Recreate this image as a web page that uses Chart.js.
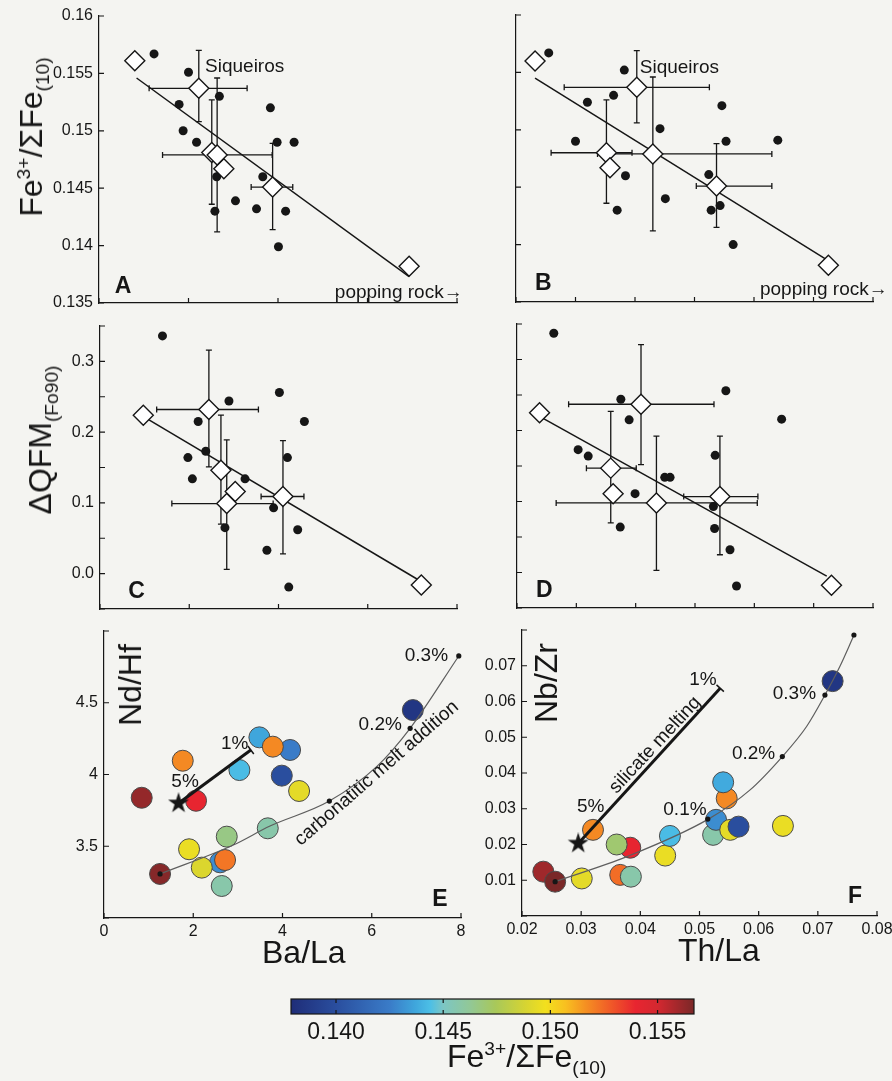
<!DOCTYPE html>
<html>
<head>
<meta charset="utf-8">
<title>Fe3+/ΣFe panels</title>
<script src="https://cdn.jsdelivr.net/npm/chart.js@4.4.0/dist/chart.umd.min.js"></script>
<style>
  body { margin: 0; background: #f4f4f1; }
  #page { position: relative; width: 892px; height: 1081px; overflow: hidden; background: #f4f4f1;
          font-family: "Liberation Sans", Arial, Helvetica, sans-serif; color: #161616; }
  #page canvas { position: absolute; left: 0; top: 0; }
  .lbl { position: absolute; white-space: nowrap; font-size: 32px; line-height: 1; z-index: 5; }
  .lbl sup, .lbl sub { font-size: 60%; line-height: 0; }
  .rot { transform: translate(-50%, -50%) rotate(-90deg); }
</style>
</head>
<body>
<div id="page">
  <canvas id="chartA" width="940" height="1081"></canvas>
  <canvas id="chartB" width="940" height="1081"></canvas>
  <canvas id="chartC" width="940" height="1081"></canvas>
  <canvas id="chartD" width="940" height="1081"></canvas>
  <canvas id="chartE" width="940" height="1081"></canvas>
  <canvas id="chartF" width="940" height="1081"></canvas>
  <canvas id="colorbar" width="940" height="1081"></canvas>

  <div class="lbl rot" style="left:31px; top:137px;">Fe<sup>3+</sup>/ΣFe<sub>(10)</sub></div>
  <div class="lbl rot" style="left:40px; top:440px;">ΔQFM<sub>(Fo90)</sub></div>
  <div class="lbl rot" style="left:130px; top:685px;">Nd/Hf</div>
  <div class="lbl rot" style="left:546px; top:683px;">Nb/Zr</div>
  <div class="lbl" style="left:262px; top:936px;">Ba/La</div>
  <div class="lbl" style="left:678px; top:934px;">Th/La</div>
  <div class="lbl" style="left:447px; top:1040px;">Fe<sup>3+</sup>/ΣFe<sub>(10)</sub></div>
</div>

<script>
// ---- panel A: Fe3+/ΣFe(10) vs Ba/La ----
const aDotX = [1.23, 2.00, 2.69, 1.79, 3.83, 1.88, 2.18, 3.98, 4.36, 3.66, 2.63, 3.05, 3.52, 2.59, 4.17, 4.01];
const aDotY = [0.1567, 0.1551, 0.1530, 0.1523, 0.1520, 0.1500, 0.1490, 0.1490, 0.1490, 0.1460, 0.1460, 0.1439, 0.1432, 0.1430, 0.1430, 0.1399];
const aMeanX = [0.80, 2.23, 2.52, 2.79, 2.64, 3.88, 6.93];
const aMeanY = [0.1561, 0.1537, 0.1481, 0.1467, 0.1479, 0.1451, 0.1382];
const aMeanXErr = [null, [1.12, 3.31], null, null, [1.42, 3.87], [3.40, 4.33], null];
const aMeanYErr = [null, [0.1508, 0.1570], [0.1436, 0.1527], null, [0.1412, 0.1546], [0.1414, 0.1489], null];
const aFitX = [0.84, 6.93];
const aFitY = [0.1546, 0.1373];

// ---- panel B: Fe3+/ΣFe(10) vs Th/La ----
const bDotX = [0.0255, 0.0382, 0.0320, 0.0364, 0.0546, 0.0442, 0.0300, 0.0553, 0.0640, 0.0384, 0.0524, 0.0451, 0.0370, 0.0528, 0.0543, 0.0565];
const bDotY = [0.1567, 0.1552, 0.1524, 0.1530, 0.1521, 0.1501, 0.1490, 0.1490, 0.1491, 0.1460, 0.1461, 0.1440, 0.1430, 0.1430, 0.1434, 0.1400];
const bMeanX = [0.0232, 0.0403, 0.0352, 0.0358, 0.0430, 0.0537, 0.0725];
const bMeanY = [0.1560, 0.1537, 0.1480, 0.1467, 0.1479, 0.1451, 0.1382];
const bMeanXErr = [null, [0.0281, 0.0525], [0.0259, 0.0395], null, [0.0337, 0.0630], [0.0503, 0.0630], null];
const bMeanYErr = [null, [0.1506, 0.1569], [0.1436, 0.1526], null, [0.1412, 0.1546], [0.1415, 0.1488], null];
const bFitX = [0.0232, 0.0722];
const bFitY = [0.1545, 0.1387];

// ---- panel C: ΔQFM(Fo90) vs Ba/La ----
const cDotX = [1.40, 2.89, 4.02, 2.20, 4.58, 2.37, 1.97, 4.20, 2.07, 3.25, 3.89, 2.80, 4.43, 3.74, 4.23];
const cDotY = [0.336, 0.244, 0.256, 0.215, 0.215, 0.173, 0.164, 0.164, 0.134, 0.134, 0.093, 0.065, 0.062, 0.033, -0.019];
const cMeanX = [0.97, 2.44, 2.71, 3.03, 2.84, 4.10, 7.20];
const cMeanY = [0.224, 0.232, 0.146, 0.116, 0.099, 0.109, -0.016];
const cMeanXErr = [null, [1.27, 3.55], null, null, [1.61, 3.88], [3.61, 4.57], null];
const cMeanYErr = [null, [0.151, 0.316], [0.070, 0.224], null, [0.006, 0.189], [0.028, 0.188], null];
const cFitX = [1.05, 7.14];
const cFitY = [0.219, -0.009];

// ---- panel D: ΔQFM(Fo90) vs Th/La ----
const dDotX = [0.0262, 0.0552, 0.0375, 0.0646, 0.0389, 0.0303, 0.0320, 0.0534, 0.0449, 0.0458, 0.0399, 0.0531, 0.0374, 0.0533, 0.0559, 0.0570];
const dDotY = [0.337, 0.256, 0.244, 0.216, 0.215, 0.173, 0.164, 0.165, 0.134, 0.134, 0.111, 0.093, 0.064, 0.062, 0.032, -0.019];
const dMeanX = [0.0238, 0.0409, 0.0358, 0.0362, 0.0435, 0.0542, 0.0730];
const dMeanY = [0.225, 0.237, 0.147, 0.111, 0.098, 0.107, -0.018];
const dMeanXErr = [null, [0.0287, 0.0532], [0.0317, 0.0401], null, [0.0266, 0.0605], [0.0481, 0.0606], null];
const dMeanYErr = [null, [0.152, 0.321], [0.070, 0.227], null, [0.003, 0.192], [0.025, 0.192], null];
const dFitX = [0.0244, 0.0722];
const dFitY = [0.217, -0.005];

// ---- panel E: Nd/Hf vs Ba/La, coloured by Fe3+/ΣFe(10) ----
const eDotX = [0.845, 1.765, 2.063, 3.034, 3.482, 4.170, 3.783, 4.372, 3.984, 6.921, 2.639, 3.670, 2.751, 1.906, 2.601, 2.191, 2.713, 1.256];
const eDotY = [3.838, 4.096, 3.817, 4.031, 4.259, 4.171, 4.194, 3.885, 3.992, 4.449, 3.223, 3.625, 3.567, 3.479, 3.388, 3.351, 3.404, 3.307];
const eDotFe = [0.1562, 0.1518, 0.1540, 0.1443, 0.1437, 0.1425, 0.1518, 0.1493, 0.1400, 0.1385, 0.1457, 0.1457, 0.1466, 0.1495, 0.1430, 0.1490, 0.1522, 0.1565];
const eCurveX = [1.256, 2.90, 3.72, 5.05, 6.11, 6.86, 7.95];
const eCurveY = [3.307, 3.509, 3.641, 3.815, 4.055, 4.322, 4.826];
const eStepX = [1.256, 5.05, 6.86, 7.95];
const eStepY = [3.307, 3.815, 4.322, 4.826];
const eMeltX = [1.67, 3.29];
const eMeltY = [3.80, 4.171];

// ---- panel F: Nb/Zr vs Th/La ----
const fDotX = [0.0236, 0.0256, 0.0301, 0.0320, 0.0383, 0.0360, 0.0366, 0.0384, 0.0442, 0.0450, 0.0546, 0.0540, 0.0523, 0.0528, 0.0552, 0.0566, 0.0641, 0.0725];
const fDotY = [0.0124, 0.0096, 0.0105, 0.0241, 0.0191, 0.0200, 0.0115, 0.0110, 0.0169, 0.0224, 0.0329, 0.0374, 0.0227, 0.0269, 0.0241, 0.0250, 0.0252, 0.0657];
const fDotFe = [0.1560, 0.1567, 0.1493, 0.1518, 0.1540, 0.1470, 0.1524, 0.1457, 0.1495, 0.1443, 0.1518, 0.1438, 0.1457, 0.1430, 0.1493, 0.1400, 0.1495, 0.1385];
const fCurveX = [0.0256, 0.0377, 0.0515, 0.0585, 0.0640, 0.0681, 0.0712, 0.0737, 0.0761];
const fCurveY = [0.0096, 0.0166, 0.0271, 0.0352, 0.0446, 0.0530, 0.0618, 0.0697, 0.0785];
const fStepX = [0.0256, 0.0514, 0.0640, 0.0712, 0.0761];
const fStepY = [0.0096, 0.0271, 0.0446, 0.0618, 0.0786];
const fMeltX = [0.0295, 0.0535];
const fMeltY = [0.0203, 0.0637];

// ---- colour scale ----
const cmapV = [0.1379, 0.1400, 0.14252, 0.14369, 0.14439, 0.1450, 0.14626, 0.14743, 0.14883, 0.14977, 0.15070, 0.15164, 0.15280, 0.15397, 0.15500, 0.1567];
const cmapC = ['#1f2d78', '#2a4e9e', '#3a7cc8', '#3fa6dc', '#4cbfe6', '#7cc6c4', '#92c896', '#a8c85a', '#d6d432', '#f2e01e', '#f8c020', '#f59022', '#f05a28', '#e82530', '#d42830', '#7a2828'];
const cbTicks = [0.140, 0.145, 0.150, 0.155];

const INK = '#161616';
const FONT = '"Liberation Sans", Arial, Helvetica, sans-serif';
const CW = 940, CH = 1081;
const Y_W = 60, X_H = 32;

function pts(xs, ys) { return xs.map((x, i) => ({ x, y: ys[i] })); }
function fixed(v, d) { return String(parseFloat(v.toFixed(d))); }

function hexRgb(h) { return [1, 3, 5].map(i => parseInt(h.slice(i, i + 2), 16)); }
function feColor(v) {
  if (v <= cmapV[0]) return cmapC[0];
  for (let i = 1; i < cmapV.length; i++) {
    if (v <= cmapV[i]) {
      const t = (v - cmapV[i - 1]) / (cmapV[i] - cmapV[i - 1]);
      const a = hexRgb(cmapC[i - 1]), b = hexRgb(cmapC[i]);
      const c = a.map((q, k) => Math.round(q + (b[k] - q) * t));
      return `rgb(${c[0]},${c[1]},${c[2]})`;
    }
  }
  return cmapC[cmapC.length - 1];
}

function starImage(size) {
  const c = document.createElement('canvas');
  c.width = c.height = size;
  const g = c.getContext('2d');
  const r = size / 2, ri = r * 0.38;
  g.beginPath();
  for (let k = 0; k < 10; k++) {
    const ang = -Math.PI / 2 + k * Math.PI / 5;
    const rr = k % 2 ? ri : r;
    g.lineTo(r + rr * Math.cos(ang), r + rr * Math.sin(ang));
  }
  g.closePath();
  g.fillStyle = INK;
  g.fill();
  return c;
}
const STAR = starImage(22);

// error bars drawn under the markers
const errorBars = {
  id: 'errorBars',
  beforeDatasetsDraw(chart) {
    const { ctx, scales: { x, y } } = chart;
    chart.data.datasets.forEach(ds => {
      if (!ds.errX) return;
      ctx.save();
      ctx.strokeStyle = INK;
      ctx.lineWidth = 1.3;
      ds.data.forEach((p, i) => {
        const px = x.getPixelForValue(p.x), py = y.getPixelForValue(p.y);
        const ex = ds.errX[i], ey = ds.errY[i];
        ctx.beginPath();
        if (ex) {
          const a = x.getPixelForValue(ex[0]), b = x.getPixelForValue(ex[1]);
          ctx.moveTo(a, py); ctx.lineTo(b, py);
          ctx.moveTo(a, py - 3); ctx.lineTo(a, py + 3);
          ctx.moveTo(b, py - 3); ctx.lineTo(b, py + 3);
        }
        if (ey) {
          const a = y.getPixelForValue(ey[0]), b = y.getPixelForValue(ey[1]);
          ctx.moveTo(px, a); ctx.lineTo(px, b);
          ctx.moveTo(px - 3, a); ctx.lineTo(px + 3, a);
          ctx.moveTo(px - 3, b); ctx.lineTo(px + 3, b);
        }
        ctx.stroke();
      });
      ctx.restore();
    });
  }
};

// small bar across the end of the melting line
const endTick = {
  id: 'endTick',
  afterDatasetsDraw(chart) {
    const { ctx } = chart;
    chart.data.datasets.forEach((ds, i) => {
      if (!ds.endTick) return;
      const pts = chart.getDatasetMeta(i).data;
      const a = pts[pts.length - 2], b = pts[pts.length - 1];
      const dx = b.x - a.x, dy = b.y - a.y, len = Math.hypot(dx, dy);
      const nx = -dy / len * 5, ny = dx / len * 5;
      ctx.save();
      ctx.strokeStyle = INK;
      ctx.lineWidth = 1.5;
      ctx.beginPath();
      ctx.moveTo(b.x - nx, b.y - ny);
      ctx.lineTo(b.x + nx, b.y + ny);
      ctx.stroke();
      ctx.restore();
    });
  }
};

// tick marks pointing into the plot
const inwardTicks = {
  id: 'inwardTicks',
  afterDraw(chart) {
    const { ctx, chartArea: ca, scales: { x, y } } = chart;
    ctx.save();
    ctx.strokeStyle = INK;
    ctx.lineWidth = 1.2;
    ctx.beginPath();
    x.ticks.forEach((t, i) => {
      const p = x.getPixelForTick(i);
      ctx.moveTo(p, ca.bottom);
      ctx.lineTo(p, ca.bottom - 5);
    });
    y.ticks.forEach((t, i) => {
      const p = y.getPixelForTick(i);
      ctx.moveTo(ca.left, p);
      ctx.lineTo(ca.left + 5, p);
    });
    ctx.stroke();
    ctx.restore();
  }
};

function notesPlugin(notes) {
  return {
    id: 'notes',
    afterDraw(chart) {
      const { ctx, scales: { x, y } } = chart;
      notes.forEach(n => {
        ctx.save();
        ctx.translate(x.getPixelForValue(n.x), y.getPixelForValue(n.y));
        if (n.rot) ctx.rotate(n.rot * Math.PI / 180);
        ctx.font = `${n.bold ? 'bold ' : ''}${n.size || 19}px ${FONT}`;
        ctx.fillStyle = INK;
        ctx.textAlign = n.align || 'left';
        ctx.textBaseline = 'middle';
        ctx.fillText(n.text, 0, 0);
        ctx.restore();
      });
    }
  };
}

function axis(s, dir) {
  return {
    type: 'linear',
    min: s.min,
    max: s.max,
    border: { display: true, color: INK, width: 1.2 },
    grid: { display: false, drawTicks: false },
    ticks: {
      stepSize: s.step,
      display: !!s.label,
      autoSkip: false,
      maxRotation: 0,
      padding: dir === 'x' ? 4 : 6,
      color: INK,
      font: { family: FONT, size: 16 },
      callback: v => (s.label ? s.label(v) : '')
    },
    afterFit: sc => {
      if (dir === 'x') sc.height = X_H; else sc.width = Y_W;
    }
  };
}

function panel(id, area, xs, ys, datasets, notes) {
  return new Chart(document.getElementById(id), {
    type: 'scatter',
    data: { datasets },
    options: {
      responsive: false,
      animation: false,
      events: [],
      layout: { padding: { left: area.l - Y_W, top: area.t, right: CW - area.r, bottom: CH - area.b - X_H } },
      plugins: { legend: { display: false }, tooltip: { enabled: false } },
      scales: { x: axis(xs, 'x'), y: axis(ys, 'y') }
    },
    plugins: [errorBars, endTick, inwardTicks, notesPlugin(notes)]
  });
}

function meanSet(xs, ys, ex, ey) {
  return {
    data: pts(xs, ys), errX: ex, errY: ey,
    pointStyle: 'rectRot', pointRadius: 10, backgroundColor: '#ffffff',
    borderColor: INK, borderWidth: 1.4, order: 1, clip: false
  };
}
function dotSet(xs, ys) {
  return { data: pts(xs, ys), pointRadius: 4.5, backgroundColor: INK, borderWidth: 0, order: 2, clip: false };
}
function fitSet(xs, ys) {
  return { data: pts(xs, ys), showLine: true, pointRadius: 0, borderColor: INK, borderWidth: 1.5, order: 3, clip: false };
}
function circleSet(xs, ys, fe) {
  return {
    data: pts(xs, ys), pointRadius: 10.5, backgroundColor: fe.map(feColor),
    borderColor: '#4a4a4a', borderWidth: 1, order: 3, clip: false
  };
}
function curveSet(xs, ys) {
  return {
    data: pts(xs, ys), showLine: true, pointRadius: 0, borderColor: '#5e5e5e', borderWidth: 1.2,
    cubicInterpolationMode: 'monotone', order: 2, clip: false
  };
}
function stepSet(xs, ys) {
  return { data: pts(xs, ys), pointRadius: 2.6, backgroundColor: INK, borderWidth: 0, order: 1, clip: false };
}
function meltSet(xs, ys) {
  return { data: pts(xs, ys), showLine: true, pointRadius: 0, borderColor: INK, borderWidth: 3, endTick: true, order: 1, clip: false };
}
function starSet(x, y) {
  return { data: [{ x, y }], pointStyle: STAR, pointRadius: 11, order: 0, clip: false };
}

const baLaAxis = { min: 0, max: 8, step: 2 };
const thLaAxis = { min: 0.02, max: 0.08, step: 0.01 };
const feAxis = { min: 0.135, max: 0.16, step: 0.005 };
const qfmAxis = { min: -0.05, max: 0.35, step: 0.05 };

panel('chartA', { l: 99, t: 16, r: 457, b: 303 }, baLaAxis,
  Object.assign({}, feAxis, { label: v => fixed(v, 3) }),
  [meanSet(aMeanX, aMeanY, aMeanXErr, aMeanYErr), dotSet(aDotX, aDotY), fitSet(aFitX, aFitY)],
  [
    { text: 'Siqueiros', x: 2.37, y: 0.1556 },
    { text: 'popping rock→', x: 5.27, y: 0.1359 },
    { text: 'A', x: 0.54, y: 0.1364, bold: true, size: 23, align: 'center' }
  ]);

panel('chartB', { l: 516, t: 15, r: 873, b: 302 }, thLaAxis, feAxis,
  [meanSet(bMeanX, bMeanY, bMeanXErr, bMeanYErr), dotSet(bDotX, bDotY), fitSet(bFitX, bFitY)],
  [
    { text: 'Siqueiros', x: 0.0408, y: 0.1554 },
    { text: 'popping rock→', x: 0.0610, y: 0.1361 },
    { text: 'B', x: 0.0246, y: 0.1366, bold: true, size: 23, align: 'center' }
  ]);

panel('chartC', { l: 100, t: 326, r: 457, b: 609 }, baLaAxis,
  Object.assign({}, qfmAxis, {
    label: v => (Math.abs(v * 10 - Math.round(v * 10)) < 1e-6 && v > -0.01 && v < 0.34 ? (Math.round(v * 10) / 10 + 0).toFixed(1) : '')
  }),
  [meanSet(cMeanX, cMeanY, cMeanXErr, cMeanYErr), dotSet(cDotX, cDotY), fitSet(cFitX, cFitY)],
  [{ text: 'C', x: 0.82, y: -0.026, bold: true, size: 23, align: 'center' }]);

panel('chartD', { l: 517, t: 324, r: 873, b: 608 }, thLaAxis, qfmAxis,
  [meanSet(dMeanX, dMeanY, dMeanXErr, dMeanYErr), dotSet(dDotX, dDotY), fitSet(dFitX, dFitY)],
  [{ text: 'D', x: 0.0246, y: -0.0255, bold: true, size: 23, align: 'center' }]);

panel('chartE', { l: 104, t: 631, r: 461, b: 918 },
  Object.assign({}, baLaAxis, { label: v => String(v) }),
  { min: 3, max: 5, step: 0.5, label: v => (v > 3.01 && v < 4.99 ? String(v) : '') },
  [circleSet(eDotX, eDotY, eDotFe), curveSet(eCurveX, eCurveY), stepSet(eStepX, eStepY),
   meltSet(eMeltX, eMeltY), starSet(eMeltX[0], eMeltY[0])],
  [
    { text: '0.3%', x: 7.71, y: 4.828, align: 'right' },
    { text: '0.2%', x: 6.675, y: 4.345, align: 'right' },
    { text: '1%', x: 3.235, y: 4.217, align: 'right' },
    { text: '5%', x: 1.816, y: 3.95, align: 'center' },
    { text: 'carbonatitic melt addition', x: 6.11, y: 4.008, align: 'center', rot: -41 },
    { text: 'E', x: 7.53, y: 3.125, bold: true, size: 23, align: 'center' }
  ]);

panel('chartF', { l: 522, t: 630, r: 877, b: 916 },
  Object.assign({}, thLaAxis, { label: v => v.toFixed(2) }),
  { min: 0, max: 0.08, step: 0.01, label: v => (v > 0.005 && v < 0.075 ? fixed(v, 2) : '') },
  [circleSet(fDotX, fDotY, fDotFe), curveSet(fCurveX, fCurveY), stepSet(fStepX, fStepY),
   meltSet(fMeltX, fMeltY), starSet(fMeltX[0], fMeltY[0])],
  [
    { text: '0.1%', x: 0.0512, y: 0.0297, align: 'right' },
    { text: '0.2%', x: 0.0628, y: 0.0455, align: 'right' },
    { text: '0.3%', x: 0.0697, y: 0.0623, align: 'right' },
    { text: '5%', x: 0.0316, y: 0.0306, align: 'center' },
    { text: '1%', x: 0.0529, y: 0.0660, align: 'right' },
    { text: 'silicate melting', x: 0.0425, y: 0.0478, align: 'center', rot: -47 },
    { text: 'F', x: 0.0763, y: 0.0054, bold: true, size: 23, align: 'center' }
  ]);

// ---- colour bar ----
const cbMin = cmapV[0], cbMax = cmapV[cmapV.length - 1];
const colorbarPlugin = {
  id: 'colorbarFill',
  beforeDatasetsDraw(chart) {
    const { ctx, chartArea: ca, scales: { x } } = chart;
    const x0 = x.getPixelForValue(cbMin), x1 = x.getPixelForValue(cbMax);
    const grad = ctx.createLinearGradient(x0, 0, x1, 0);
    cmapV.forEach((v, i) => grad.addColorStop((v - cbMin) / (cbMax - cbMin), cmapC[i]));
    ctx.save();
    ctx.fillStyle = grad;
    ctx.fillRect(x0, ca.top, x1 - x0, ca.bottom - ca.top);
    ctx.strokeStyle = INK;
    ctx.lineWidth = 1.2;
    ctx.strokeRect(x0, ca.top, x1 - x0, ca.bottom - ca.top);
    ctx.beginPath();
    cbTicks.forEach(v => {
      const p = x.getPixelForValue(v);
      ctx.moveTo(p, ca.top); ctx.lineTo(p, ca.top + 4);
      ctx.moveTo(p, ca.bottom); ctx.lineTo(p, ca.bottom - 4);
    });
    ctx.stroke();
    ctx.restore();
  }
};

new Chart(document.getElementById('colorbar'), {
  type: 'scatter',
  data: { datasets: [] },
  options: {
    responsive: false,
    animation: false,
    events: [],
    layout: { padding: { left: 291, top: 999, right: CW - 694, bottom: CH - 1014 - 36 } },
    plugins: { legend: { display: false }, tooltip: { enabled: false } },
    scales: {
      x: {
        type: 'linear', min: cbMin, max: cbMax,
        border: { display: false },
        grid: { display: false, drawTicks: false },
        afterBuildTicks: sc => { sc.ticks = cbTicks.map(v => ({ value: v })); },
        ticks: { autoSkip: false, maxRotation: 0, padding: 5, color: INK, font: { family: FONT, size: 23 }, callback: v => v.toFixed(3) },
        afterFit: sc => { sc.height = 36; }
      },
      y: { display: false, min: 0, max: 1 }
    }
  },
  plugins: [colorbarPlugin]
});
</script>
</body>
</html>
